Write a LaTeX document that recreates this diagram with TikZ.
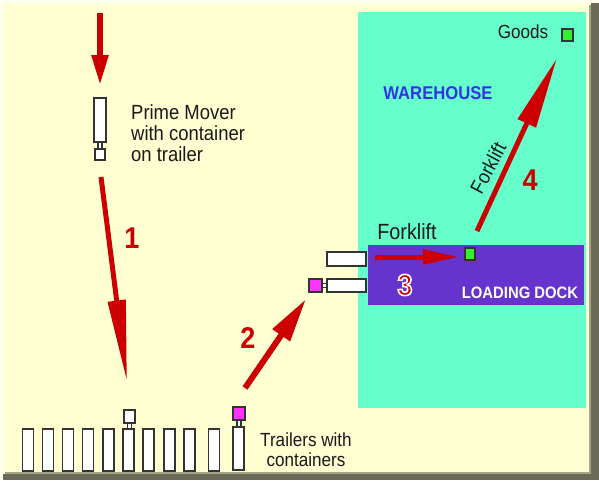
\documentclass[tikz,border=0pt]{standalone}
\usepackage{fontspec}
\setmainfont{Liberation Sans}
\newfontfamily\cf[FakeStretch=0.9]{Liberation Sans}
\usetikzlibrary{arrows.meta}
\definecolor{bgy}{HTML}{FFFFD2}
\definecolor{whc}{HTML}{66FFCC}
\definecolor{dockc}{HTML}{6633CC}
\definecolor{arr}{HTML}{CC0000}
\definecolor{grn}{HTML}{33EE33}
\definecolor{mag}{HTML}{FF33FF}
\definecolor{frm}{HTML}{6A6A58}
\definecolor{wblue}{HTML}{3333E6}
\newcommand{\outlinedtext}[1]{\special{pdf:code q 2 Tr 1 1 1 RG 1.6 w}#1\special{pdf:code Q}}
\tikzset{
  box/.style={draw=black!80, line width=1.1pt, fill=white, inner sep=0pt, outer sep=0pt},
  gbox/.style={box, fill=grn},
  mbox/.style={box, fill=mag},
  redarrow/.style={draw=arr, line width=5.5pt, line cap=butt},
  lbl/.style={font=\cf\fontsize{20}{21}\selectfont, inner sep=0pt, text=black!90},
  num/.style={font=\cf\bfseries\fontsize{30}{30}\selectfont, text=arr, inner sep=0pt},
}
\begin{document}
\begin{tikzpicture}[x=1pt,y=-1pt]
\useasboundingbox (0,0) rectangle (599,480);
% background and frame
\fill[bgy] (0,0) rectangle (599,480);
\fill[white!60!bgy] (0,0) rectangle (4,480);
\fill[white!60!bgy] (0,0) rectangle (599,4);
\fill[frm] (591,3) rectangle (599,480);
\fill[frm] (3,474) rectangle (599,480);
\fill[frm!60!bgy] (589,5) rectangle (591,474);
\fill[frm!60!bgy] (5,472) rectangle (591,474);
% warehouse
\fill[whc] (358,12) rectangle (586,408);
\node[font=\cf\bfseries\fontsize{18.5}{18.5}\selectfont, text=wblue, inner sep=0pt] (wh) at (438,93) {WAREHOUSE};
% loading dock
\fill[dockc] (368,245) rectangle (584,305);
\node[font=\cf\bfseries\fontsize{16.5}{16.5}\selectfont, text=white, inner sep=0pt] (ld) at (520,293) {LOADING DOCK};
% goods
\node[gbox, minimum width=11pt, minimum height=12pt] (goods) at (567.5,35) {};
\node[lbl, font=\cf\fontsize{19}{19}\selectfont] (goodslbl) at (523,32) {Goods};
% forklift at dock
\node[gbox, minimum width=10pt, minimum height=12pt] (fork) at (470,254) {};
\node[lbl, font=\cf\fontsize{22}{22}\selectfont] (forklbl) at (407,232) {Forklift};
% trailers at dock
\node[box, minimum width=39pt, minimum height=14pt] (dtr1) at (346.5,259) {};
\node[box, minimum width=39pt, minimum height=13pt] (dtr2) at (346.5,285.5) {};
\node[mbox, minimum width=13pt, minimum height=13pt] (dcab) at (315.5,285.5) {};
\node[box, minimum width=5pt, minimum height=4pt] (dcon) at (324.5,285.5) {};
% prime mover
\node[box, minimum width=12pt, minimum height=44pt] (pmc) at (100,120) {};
\node[box, minimum width=4pt, minimum height=7pt] (pmk) at (100,145.5) {};
\node[box, minimum width=10pt, minimum height=11pt] (pmcab) at (100,154.5) {};
\node[lbl, anchor=west, align=left, font=\cf\fontsize{20.5}{21}\selectfont] (pmlbl) at (131,133) {Prime Mover\\with container\\on trailer};
% bottom trailers
\foreach \x [count=\i] in {28,48,68,88,108.5,128.5,148.5,169.5,189.5,214}
  \node[box, minimum width=11pt, minimum height=42pt] (tr\i) at (\x,450) {};
\node[box, minimum width=11pt, minimum height=43pt] (tr11) at (238.5,448.5) {};
\node[box, minimum width=11pt, minimum height=13pt] (cab6) at (129.5,416.5) {};
\node[box, minimum width=4pt, minimum height=6pt] (con6) at (129.5,426) {};
\node[mbox, minimum width=12pt, minimum height=13pt] (cab11) at (239,413.5) {};
\node[box, minimum width=4pt, minimum height=7pt] (con11) at (239,423.5) {};
\node[lbl, align=center, font=\cf\fontsize{19}{20}\selectfont] (trlbl) at (306,450) {Trailers with\\containers};
% arrow coordinates
\coordinate (a0s) at (100,13);
\coordinate (a0e) at (100,85);
\coordinate (a1s) at (101,177);
\coordinate (a1e) at (127,382);
\coordinate (a2s) at (245,388);
\coordinate (a2e) at (306,299);
\coordinate (a3s) at (375,257);
\coordinate (a3e) at (459,257);
\coordinate (a4s) at (477,231);
\coordinate (a4e) at (557,58);
% arrows
\draw[redarrow, -{Triangle[length=30pt,width=16pt]}] (a0s) -- (a0e);
\draw[redarrow, line width=5pt, -{Triangle[length=82pt,width=17pt]}] (a1s) -- (a1e);
\draw[redarrow, line width=6pt, -{Triangle[length=44pt,width=20pt]}] (a2s) -- (a2e);
\draw[redarrow, line width=5pt, -{Triangle[length=36pt,width=14pt]}] (a3s) -- (a3e);
\draw[redarrow, line width=5pt, -{Triangle[length=72pt,width=19pt]}] (a4s) -- (a4e);
% numbers
\node[num] (n1) at (132,238) {1};
\node[num] (n2) at (248,338) {2};
\node[num] (n3) at (405,285) {\outlinedtext{3}};
\node[num] (n4) at (530,180) {4};
\node[lbl, rotate=62, font=\cf\fontsize{20}{20}\selectfont] (fork4) at (488,168) {Forklift};
\end{tikzpicture}
\end{document}
